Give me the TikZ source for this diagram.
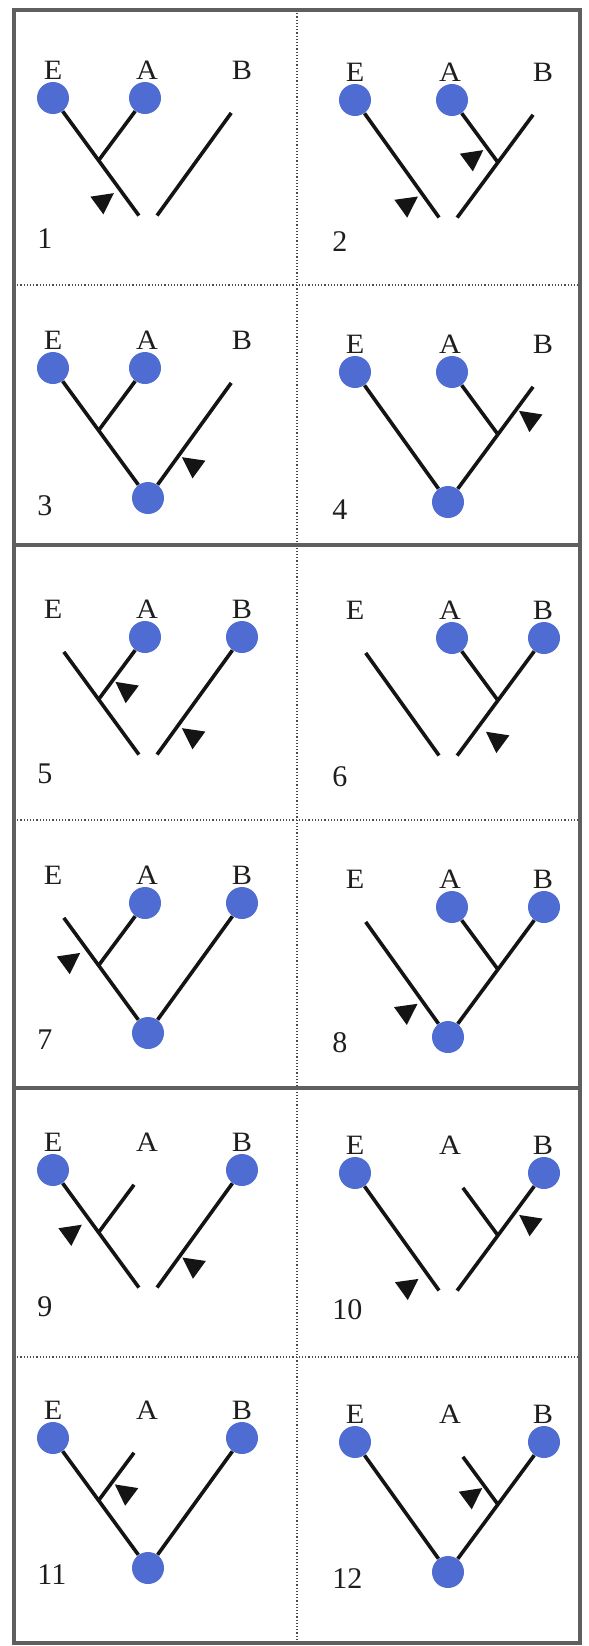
\documentclass[tikz,border=0pt]{standalone}
\usepackage{fontspec}
\setmainfont{Liberation Serif}
\newfontfamily\lblfont[FakeStretch=1.08]{Liberation Serif}
\usetikzlibrary{calc}
\definecolor{dotblue}{RGB}{78,108,210}
\definecolor{txt}{RGB}{30,30,30}
\definecolor{framegray}{RGB}{95,95,95}
\tikzset{
  dot/.style={circle, fill=dotblue, minimum size=16pt, inner sep=0pt},
  ghost/.style={circle, minimum size=18pt, inner sep=0pt},
  ghostr/.style={circle, minimum size=15pt, inner sep=0pt},
  br/.style={line width=1.8pt, draw=black!92},
  trif/.style={fill=black!92},
  lbl/.style={inner sep=0pt, text=txt, font=\lblfont\fontsize{14}{16}\selectfont},
  num/.style={inner sep=0pt, anchor=west, text=txt, font=\fontsize{15}{17}\selectfont},
  thickframe/.style={line width=1.9pt, draw=framegray},
  dotsep/.style={line width=0.6pt, draw=black!70, densely dotted},
}
% triangle marker: from, to, t, side angle, gap (px)
\newcommand\tri[5]{%
  \coordinate (tf) at ($(#1)!#3!(#2)$);
  \coordinate (ta) at ($(tf)!5.5pt!(#2)$);
  \coordinate (tb) at ($(tf)!-5.5pt!(#2)$);
  \fill[trif] ($(tf)!#5*0.5pt!#4:(#2)$) -- ($(ta)!#5*0.5pt+10.5pt!#4:(#2)$) -- ($(tb)!#5*0.5pt+10.5pt!#4:(#2)$) -- cycle;
}
\newcommand\labsL[4]{%
  \node[lbl] (lE#1) at (53,#2-28) {E};
  \node[lbl] (lA#1) at (147,#2-28) {A};
  \node[lbl] (lB#1) at (242,#2-28) {B};
  \node[num] (n#1) at (37,#4) {#3};
}
\newcommand\labsR[4]{%
  \node[lbl] (lE#1) at (355,#2-28) {E};
  \node[lbl] (lA#1) at (450,#2-28) {A};
  \node[lbl] (lB#1) at (543,#2-28) {B};
  \node[num] (n#1) at (332,#4) {#3};
}
\begin{document}
\begin{tikzpicture}[x=0.5pt,y=-0.5pt]
\useasboundingbox (0,0) rectangle (589,1646);
\fill[white] (0,0) rectangle (589,1646);

% frame
\draw[dotsep] (297,10) -- (297,1643);
\draw[dotsep] (14,285) -- (580,285);
\draw[dotsep] (14,820) -- (580,820);
\draw[dotsep] (14,1357) -- (580,1357);
\draw[thickframe] (14,545) -- (580,545);
\draw[thickframe] (14,1088) -- (580,1088);
\draw[thickframe] (14,10) rectangle (580,1643);

% ---------- Panel 1 ----------
\node[dot] (E1) at (53,98) {};
\node[dot] (A1) at (145,98) {};
\node[ghost] (B1) at (242,98) {};
\node[ghostr] (R1) at (148,228) {};
\coordinate (J1) at ($(E1)!0.48!(R1)$);
\draw[br] (E1) -- (R1); \draw[br] (A1) -- (J1); \draw[br] (B1) -- (R1);
\tri{E1}{R1}{0.70}{-90}{7}
\labsL{1}{98}{1}{239}

% ---------- Panel 2 ----------
\node[dot] (E2) at (355,100) {};
\node[dot] (A2) at (452,100) {};
\node[ghost] (B2) at (544,100) {};
\node[ghostr] (R2) at (448,230) {};
\coordinate (J2) at ($(B2)!0.48!(R2)$);
\draw[br] (E2) -- (R2); \draw[br] (B2) -- (R2); \draw[br] (A2) -- (J2);
\tri{E2}{R2}{0.72}{-90}{5}
\tri{A2}{J2}{0.76}{-90}{4.5}
\labsR{2}{100}{2}{242}

% ---------- Panel 3 ----------
\node[dot] (E3) at (53,368) {};
\node[dot] (A3) at (145,368) {};
\node[ghost] (B3) at (242,368) {};
\node[dot] (R3) at (148,498) {};
\coordinate (J3) at ($(E3)!0.48!(R3)$);
\draw[br] (E3) -- (R3); \draw[br] (A3) -- (J3); \draw[br] (B3) -- (R3);
\tri{B3}{R3}{0.67}{90}{3.6}
\labsL{3}{368}{3}{506}

% ---------- Panel 4 ----------
\node[dot] (E4) at (355,372) {};
\node[dot] (A4) at (452,372) {};
\node[ghost] (B4) at (544,372) {};
\node[dot] (R4) at (448,502) {};
\coordinate (J4) at ($(B4)!0.48!(R4)$);
\draw[br] (E4) -- (R4); \draw[br] (B4) -- (R4); \draw[br] (A4) -- (J4);
\tri{B4}{R4}{0.285}{90}{3}
\labsR{4}{372}{4}{510}

% ---------- Panel 5 ----------
\node[ghost] (E5) at (53,637) {};
\node[dot] (A5) at (145,637) {};
\node[dot] (B5) at (242,637) {};
\node[ghostr] (R5) at (148,767) {};
\coordinate (J5) at ($(E5)!0.48!(R5)$);
\draw[br] (E5) -- (R5); \draw[br] (A5) -- (J5); \draw[br] (B5) -- (R5);
\tri{A5}{J5}{0.69}{90}{3}
\tri{B5}{R5}{0.68}{90}{4.7}
\labsL{5}{637}{5}{774}

% ---------- Panel 6 ----------
\node[ghost] (E6) at (355,638) {};
\node[dot] (A6) at (452,638) {};
\node[dot] (B6) at (544,638) {};
\node[ghostr] (R6) at (448,768) {};
\coordinate (J6) at ($(B6)!0.48!(R6)$);
\draw[br] (E6) -- (R6); \draw[br] (B6) -- (R6); \draw[br] (A6) -- (J6);
\tri{B6}{R6}{0.68}{90}{9}
\labsR{6}{638}{6}{777}

% ---------- Panel 7 ----------
\node[ghost] (E7) at (53,903) {};
\node[dot] (A7) at (145,903) {};
\node[dot] (B7) at (242,903) {};
\node[dot] (R7) at (148,1033) {};
\coordinate (J7) at ($(E7)!0.48!(R7)$);
\draw[br] (E7) -- (R7); \draw[br] (A7) -- (J7); \draw[br] (B7) -- (R7);
\tri{E7}{R7}{0.35}{-90}{7.5}
\labsL{7}{903}{7}{1040}

% ---------- Panel 8 ----------
\node[ghost] (E8) at (355,907) {};
\node[dot] (A8) at (452,907) {};
\node[dot] (B8) at (544,907) {};
\node[dot] (R8) at (448,1037) {};
\coordinate (J8) at ($(B8)!0.48!(R8)$);
\draw[br] (E8) -- (R8); \draw[br] (B8) -- (R8); \draw[br] (A8) -- (J8);
\tri{E8}{R8}{0.72}{-90}{5.5}
\labsR{8}{907}{8}{1043}

% ---------- Panel 9 ----------
\node[dot] (E9) at (53,1170) {};
\node[ghost] (A9) at (145,1170) {};
\node[dot] (B9) at (242,1170) {};
\node[ghostr] (R9) at (148,1300) {};
\coordinate (J9) at ($(E9)!0.48!(R9)$);
\draw[br] (E9) -- (R9); \draw[br] (A9) -- (J9); \draw[br] (B9) -- (R9);
\tri{E9}{R9}{0.38}{-90}{9}
\tri{B9}{R9}{0.66}{90}{3}
\labsL{9}{1170}{9}{1307}

% ---------- Panel 10 ----------
\node[dot] (E10) at (355,1173) {};
\node[ghost] (A10) at (452,1173) {};
\node[dot] (B10) at (544,1173) {};
\node[ghostr] (R10) at (448,1303) {};
\coordinate (J10) at ($(B10)!0.48!(R10)$);
\draw[br] (E10) -- (R10); \draw[br] (B10) -- (R10); \draw[br] (A10) -- (J10);
\tri{E10}{R10}{0.77}{-90}{10}
\tri{B10}{R10}{0.30}{90}{5}
\labsR{10}{1173}{10}{1310}

% ---------- Panel 11 ----------
\node[dot] (E11) at (53,1438) {};
\node[ghost] (A11) at (145,1438) {};
\node[dot] (B11) at (242,1438) {};
\node[dot] (R11) at (148,1568) {};
\coordinate (J11) at ($(E11)!0.48!(R11)$);
\draw[br] (E11) -- (R11); \draw[br] (A11) -- (J11); \draw[br] (B11) -- (R11);
\tri{A11}{J11}{0.71}{90}{3.5}
\labsL{11}{1438}{11}{1575}

% ---------- Panel 12 ----------
\node[dot] (E12) at (355,1442) {};
\node[ghost] (A12) at (452,1442) {};
\node[dot] (B12) at (544,1442) {};
\node[dot] (R12) at (448,1572) {};
\coordinate (J12) at ($(B12)!0.48!(R12)$);
\draw[br] (E12) -- (R12); \draw[br] (B12) -- (R12); \draw[br] (A12) -- (J12);
\tri{A12}{J12}{0.71}{-90}{3}
\labsR{12}{1442}{12}{1579}
\end{tikzpicture}
\end{document}
